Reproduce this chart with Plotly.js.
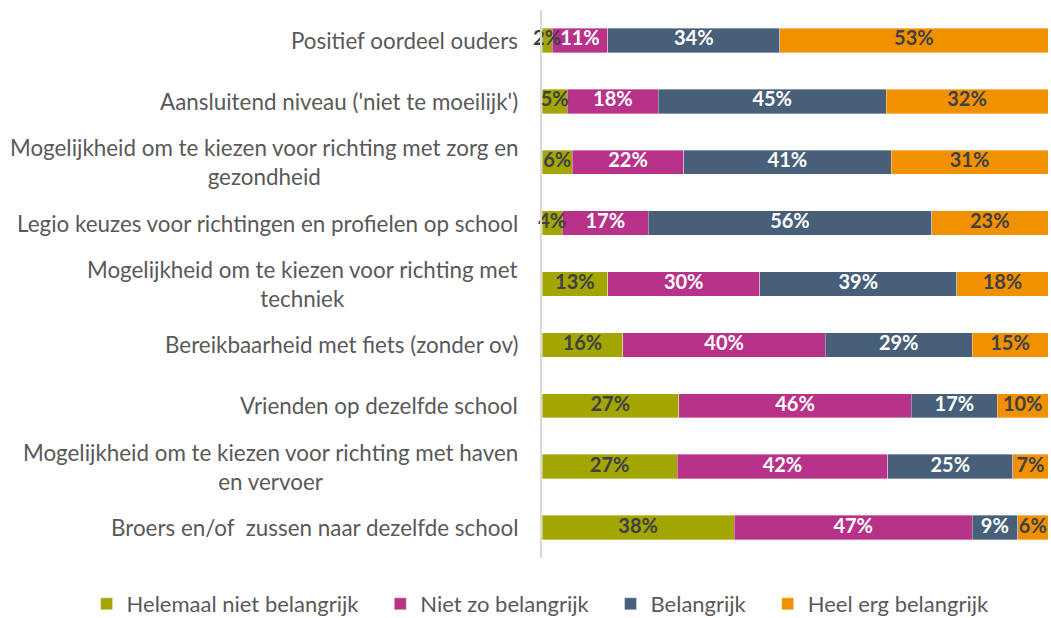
<!DOCTYPE html>
<html>
<head>
<meta charset="utf-8">
<script src="https://cdn.plot.ly/plotly-3.0.1.min.js"></script>
<style>
  html, body { margin: 0; padding: 0; background: #fff; }
  #chart { width: 1051px; height: 618px; }
</style>
</head>
<body>
<div id="chart"></div>
<script>
const categories = [
  'Positief oordeel ouders',
  "Aansluitend niveau ('niet te moeilijk')",
  'Mogelijkheid om te kiezen voor richting met zorg en<br>gezondheid',
  'Legio keuzes voor richtingen en profielen op school',
  'Mogelijkheid om te kiezen voor richting met<br>techniek',
  'Bereikbaarheid met fiets (zonder ov)',
  'Vrienden op dezelfde school',
  'Mogelijkheid om te kiezen voor richting met haven<br>en vervoer',
  'Broers en/of  zussen naar dezelfde school',
];

const helemaalNiet = [2, 5, 6, 4, 13, 16, 27, 27, 38];
const nietZo = [11, 18, 22, 17, 30, 40, 46, 42, 47];
const belangrijk = [34, 45, 41, 56, 39, 29, 17, 25, 9];
const heelErg = [53, 32, 31, 23, 18, 15, 10, 7, 6];

const seriesNames = ['Helemaal niet belangrijk', 'Niet zo belangrijk', 'Belangrijk', 'Heel erg belangrijk'];
const seriesValues = [helemaalNiet, nietZo, belangrijk, heelErg];
const seriesColors = ['#A3A600', '#B8328A', '#475F79', '#F29100'];
const labelColors = ['#404040', '#ffffff', '#ffffff', '#404040'];

const FONT = 'Lato, "Open Sans", sans-serif';
const LEGEND_PAD = '\u00a0\u00a0\u00a0';

// row totals so every bar fills 100% (like Excel's 100% stacked bar)
const totals = categories.map((_, r) => seriesValues.reduce((s, vals) => s + vals[r], 0));

const barTraces = seriesValues.map((vals, i) => ({
  type: 'bar',
  orientation: 'h',
  name: i < seriesNames.length - 1 ? seriesNames[i] + LEGEND_PAD : seriesNames[i],
  y: categories,
  x: vals.map((v, r) => v / totals[r] * 100),
  marker: { color: seriesColors[i], line: { color: 'rgba(255,255,255,0.6)', width: 0.6 } },
  hoverinfo: 'skip',
}));

// value labels centred on each segment, drawn as text so small ones can overflow
const labelTraces = seriesValues.map((vals, i) => ({
  type: 'scatter',
  mode: 'text',
  showlegend: false,
  cliponaxis: false,
  y: categories,
  x: vals.map((v, r) => {
    let start = 0;
    for (let k = 0; k < i; k++) start += seriesValues[k][r];
    return (start + v / 2) / totals[r] * 100;
  }),
  text: vals.map(v => `${v}%`),
  textposition: 'middle center',
  textfont: { family: FONT, size: 20, color: labelColors[i], weight: 'bold' },
  hoverinfo: 'skip',
}));

// category labels as annotations so wrapped lines stay centred like the original
const annotations = categories.map(cat => ({
  xref: 'paper',
  yref: 'y',
  x: 0,
  y: cat,
  xanchor: 'right',
  xshift: -22,
  align: 'center',
  text: cat,
  showarrow: false,
  font: { family: FONT, size: 22.4, color: '#595959' },
}));

const layout = {
  width: 1051,
  height: 618,
  margin: { t: 10, b: 60, l: 542, r: 3, autoexpand: false },
  paper_bgcolor: '#ffffff',
  plot_bgcolor: '#ffffff',
  barmode: 'stack',
  bargap: 0.6,
  showlegend: true,
  legend: {
    orientation: 'h',
    x: -0.9,
    xanchor: 'left',
    y: -0.084,
    yanchor: 'middle',
    traceorder: 'normal',
    font: { family: FONT, size: 22, color: '#595959' },
    itemwidth: 30,
  },
  xaxis: {
    range: [0, 100],
    showticklabels: false,
    showgrid: false,
    zeroline: false,
    showline: false,
    fixedrange: true,
  },
  yaxis: {
    autorange: 'reversed',
    showticklabels: false,
    showgrid: false,
    zeroline: false,
    showline: true,
    linecolor: '#D9D9D9',
    linewidth: 2,
    ticks: '',
    fixedrange: true,
  },
  annotations,
};

Plotly.newPlot('chart', [...barTraces, ...labelTraces], layout, { displayModeBar: false, staticPlot: true });
</script>
</body>
</html>
